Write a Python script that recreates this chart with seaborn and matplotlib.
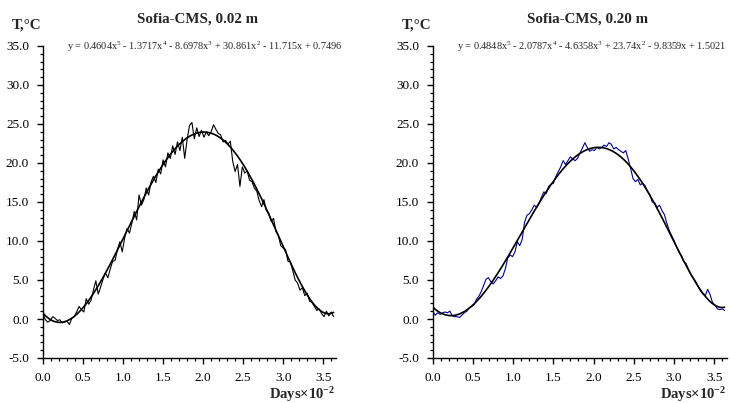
import numpy as np
import pandas as pd
import matplotlib
matplotlib.use("Agg")
import matplotlib.pyplot as plt
import seaborn as sns
from matplotlib.ticker import MultipleLocator, FormatStrFormatter

# ---------------- data ----------------
days = np.arange(0, 366, 3) / 100.0  # Days x 10^-2

temp_002 = [
    0.6, -0.1, -0.4, -0.2, 0.3, 0.1, -0.2, -0.1, -0.5, -0.4,
    -0.3, -0.7, 0.1, 0.3, 0.9, 1.6, 1.2, 0.9, 2.6, 1.9,
    2.4, 3.7, 4.9, 3.2, 4.1, 5.1, 5.9, 5.3, 6.4, 7.4,
    7.5, 8.9, 9.9, 8.6, 10.4, 11.6, 11.0, 12.3, 13.8, 12.7,
    15.9, 14.6, 15.3, 16.8, 15.9, 17.6, 18.3, 17.5, 19.2, 18.6,
    20.4, 19.5, 21.3, 20.6, 22.2, 21.1, 22.7, 21.6, 23.3, 20.6,
    23.0, 24.8, 25.2, 23.1, 24.5, 23.4, 24.2, 23.3, 24.0, 23.5,
    24.0, 24.9, 24.3, 23.8, 23.6, 22.7, 22.9, 22.4, 22.8, 20.2,
    18.9, 19.8, 17.0, 19.5, 18.7, 19.0, 17.8, 17.6, 16.8, 16.4,
    15.2, 14.4, 15.3, 13.9, 13.6, 12.5, 12.9, 11.2, 10.7, 9.4,
    9.1, 8.9, 7.4, 7.3, 6.2, 5.0, 4.6, 3.7, 4.0, 3.0,
    3.3, 2.3, 2.1, 1.6, 1.1, 1.3, 0.7, 0.3, 1.0, 0.4,
    0.9, 0.3,
]

temp_020 = [
    0.9, 0.5, 0.8, 0.6, 0.8, 0.9, 0.8, 1.0, 0.4, 0.3,
    0.3, 0.2, 0.5, 0.8, 1.0, 1.4, 1.6, 1.8, 2.5, 2.9,
    3.5, 4.3, 5.1, 5.3, 4.8, 4.5, 4.9, 5.4, 5.2, 5.5,
    6.4, 7.8, 8.2, 8.0, 8.6, 9.9, 9.4, 10.2, 12.4, 13.3,
    13.5, 14.0, 14.6, 14.3, 14.8, 15.6, 16.3, 16.1, 17.0, 17.3,
    17.4, 18.3, 18.9, 19.5, 20.3, 19.8, 20.3, 20.8, 20.5, 20.3,
    20.6, 21.3, 21.9, 22.6, 22.0, 21.5, 21.7, 21.6, 22.0, 21.8,
    22.0, 22.3, 22.1, 22.6, 22.4, 21.8, 22.0, 21.7, 21.5, 21.3,
    21.6, 20.5, 19.3, 18.0, 17.6, 17.9, 17.2, 17.4, 17.1, 16.4,
    15.9, 15.0, 14.9, 14.3, 14.6, 13.9, 13.4, 12.3, 11.4, 10.7,
    10.1, 9.3, 8.6, 8.2, 7.4, 7.1, 6.4, 5.7, 5.3, 4.8,
    4.2, 3.6, 3.2, 3.0, 3.8, 3.1, 2.1, 1.8, 1.3, 1.2,
    1.3, 1.1,
]

# trend-line coefficients (highest power first), as printed on the chart
coef_002 = [0.4604, -1.3717, -8.6978, 30.861, -11.715, 0.7496]
coef_020 = [0.4848, -2.0787, -4.6358, 23.74, -9.8359, 1.5021]

titles = ["Sofia-CMS, 0.02 m", "Sofia-CMS, 0.20 m"]
equations = [
    r"y = 0.4604x$^5$ - 1.3717x$^4$ - 8.6978x$^3$ + 30.861x$^2$ - 11.715x + 0.7496",
    r"y = 0.4848x$^5$ - 2.0787x$^4$ - 4.6358x$^3$ + 23.74x$^2$ - 9.8359x + 1.5021",
]
line_colors = ["black", "#00008B"]

# ---------------- style ----------------
sns.set_theme(style="ticks")
plt.rcParams["font.family"] = ["Liberation Serif", "DejaVu Serif"]
plt.rcParams["mathtext.fontset"] = "custom"
plt.rcParams["mathtext.rm"] = "Liberation Serif"
plt.rcParams["mathtext.it"] = "Liberation Serif:italic"
plt.rcParams["mathtext.bf"] = "Liberation Serif:bold"

fig = plt.figure(figsize=(7.30, 4.03), dpi=100)
W, H = 730.0, 403.0
axes_px = [(43, 336), (433, 727)]
bottom_px, top_px = 358, 46

series = [temp_002, temp_020]
coefs = [coef_002, coef_020]

for i in range(2):
    l, r = axes_px[i]
    ax = fig.add_axes([l / W, 1 - bottom_px / H, (r - l) / W, (bottom_px - top_px) / H])
    df = pd.DataFrame({"x": days, "y": series[i]})
    sns.lineplot(data=df, x="x", y="y", ax=ax, color=line_colors[i], lw=0.8, legend=False)
    xf = np.linspace(0, 3.63, 300)
    fit = pd.DataFrame({"x": xf, "y": np.polyval(coefs[i], xf)})
    sns.lineplot(data=fit, x="x", y="y", ax=ax, color="black", lw=1.2, legend=False)

    ax.set_xlim(0, 3.66)
    ax.set_ylim(-5, 35)
    ax.xaxis.set_major_locator(MultipleLocator(0.5))
    ax.xaxis.set_minor_locator(MultipleLocator(0.1))
    ax.yaxis.set_major_locator(MultipleLocator(5))
    ax.yaxis.set_minor_locator(MultipleLocator(1))
    ax.xaxis.set_major_formatter(FormatStrFormatter("%.1f"))
    ax.yaxis.set_major_formatter(FormatStrFormatter("%.1f"))
    ax.tick_params(which="major", direction="out", length=4, width=1.0, labelsize=9.5,
                   colors="black", pad=6)
    ax.tick_params(which="minor", direction="out", length=2.2, width=0.9, colors="black")
    ax.set_xlabel("")
    ax.set_ylabel("")
    for s in ["top", "right"]:
        ax.spines[s].set_visible(False)
    for s in ["left", "bottom"]:
        ax.spines[s].set_linewidth(1.0)
        ax.spines[s].set_color("black")
    ax.set_facecolor("white")

    # texts
    fig.text((l - 16) / W, 1 - 25 / H, "T,°C", ha="center", va="center",
             fontsize=10.8, fontweight="bold")
    fig.text((l + 155) / W, 1 - 19 / H, titles[i], ha="center", va="center",
             fontsize=10.8, fontweight="bold")
    fig.text((l + 24) / W, 1 - 47 / H, equations[i], ha="left", va="center",
             fontsize=7.4)
    fig.text((r - 1) / W, 1 - 395 / H, r"Days×10$^{\mathbf{-2}}$", ha="right", va="center",
             fontsize=10.5, fontweight="bold")

fig.savefig("out.png", dpi=100, facecolor="white")
